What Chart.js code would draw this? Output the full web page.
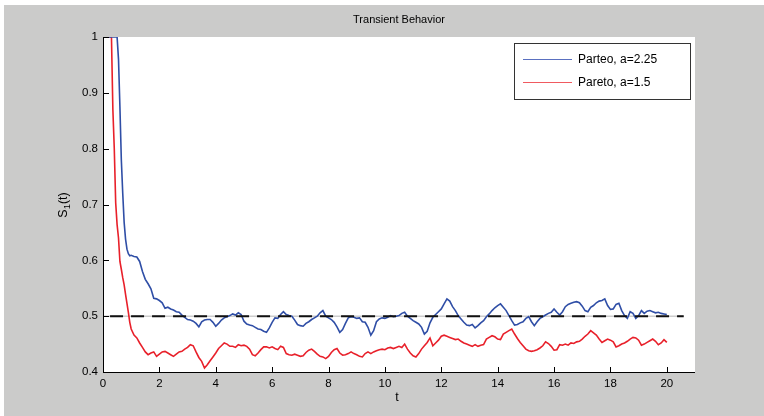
<!DOCTYPE html>
<html>
<head>
<meta charset="utf-8">
<script src="https://cdn.jsdelivr.net/npm/chart.js@4/dist/chart.umd.min.js"></script>
<style>
  html, body { margin: 0; padding: 0; background: #ffffff; }
  canvas { display: block; }
</style>
</head>
<body>
<canvas id="c" width="764" height="416"></canvas>
<script>
// Sample times (finer steps over the initial drop)
const tValues = [
  0, 0.1, 0.2, 0.3, 0.35, 0.4, 0.45, 0.5, 0.55, 0.6, 0.65, 0.7, 0.75, 0.8, 0.85, 0.9, 0.95, 1.0,
  1.1, 1.2, 1.3, 1.4, 1.5, 1.6, 1.7, 1.8, 1.9, 2.0,
  2.1, 2.2, 2.3, 2.4, 2.5, 2.6, 2.7, 2.8, 2.9, 3.0,
  3.1, 3.2, 3.3, 3.4, 3.5, 3.6, 3.7, 3.8, 3.9, 4.0,
  4.1, 4.2, 4.3, 4.4, 4.5, 4.6, 4.7, 4.8, 4.9, 5.0,
  5.1, 5.2, 5.3, 5.4, 5.5, 5.6, 5.7, 5.8, 5.9, 6.0,
  6.1, 6.2, 6.3, 6.4, 6.5, 6.6, 6.7, 6.8, 6.9, 7.0,
  7.1, 7.2, 7.3, 7.4, 7.5, 7.6, 7.7, 7.8, 7.9, 8.0,
  8.1, 8.2, 8.3, 8.4, 8.5, 8.6, 8.7, 8.8, 8.9, 9.0,
  9.1, 9.2, 9.3, 9.4, 9.5, 9.6, 9.7, 9.8, 9.9, 10.0,
  10.1, 10.2, 10.3, 10.4, 10.5, 10.6, 10.7, 10.8, 10.9, 11.0,
  11.1, 11.2, 11.3, 11.4, 11.5, 11.6, 11.7, 11.8, 11.9, 12.0,
  12.1, 12.2, 12.3, 12.4, 12.5, 12.6, 12.7, 12.8, 12.9, 13.0,
  13.1, 13.2, 13.3, 13.4, 13.5, 13.6, 13.7, 13.8, 13.9, 14.0,
  14.1, 14.2, 14.3, 14.4, 14.5, 14.6, 14.7, 14.8, 14.9, 15.0,
  15.1, 15.2, 15.3, 15.4, 15.5, 15.6, 15.7, 15.8, 15.9, 16.0,
  16.1, 16.2, 16.3, 16.4, 16.5, 16.6, 16.7, 16.8, 16.9, 17.0,
  17.1, 17.2, 17.3, 17.4, 17.5, 17.6, 17.7, 17.8, 17.9, 18.0,
  18.1, 18.2, 18.3, 18.4, 18.5, 18.6, 18.7, 18.8, 18.9, 19.0,
  19.1, 19.2, 19.3, 19.4, 19.5, 19.6, 19.7, 19.8, 19.9, 20.0
];

// S_1(t) for the Pareto a=2.25 run
const sParetoA225 = [
  1, 1, 1, 1, 1, 1, 1, 1, 0.96, 0.875, 0.78, 0.72, 0.668, 0.638, 0.62, 0.612, 0.608, 0.609,
  0.607, 0.606, 0.598, 0.580, 0.566, 0.558, 0.549, 0.532, 0.531, 0.528,
  0.524, 0.514, 0.516, 0.513, 0.511, 0.508, 0.507, 0.502, 0.498, 0.494,
  0.493, 0.491, 0.487, 0.481, 0.490, 0.493, 0.494, 0.494, 0.489, 0.482,
  0.487, 0.493, 0.497, 0.499, 0.501, 0.504, 0.502, 0.506, 0.503, 0.491,
  0.486, 0.484, 0.483, 0.480, 0.477, 0.476, 0.473, 0.471, 0.479, 0.489,
  0.497, 0.496, 0.503, 0.508, 0.503, 0.501, 0.500, 0.493, 0.485, 0.483,
  0.482, 0.487, 0.490, 0.494, 0.497, 0.500, 0.506, 0.510, 0.500, 0.497,
  0.494, 0.489, 0.481, 0.471, 0.476, 0.487, 0.497, 0.499, 0.498, 0.496,
  0.497, 0.490, 0.489, 0.480, 0.466, 0.474, 0.490, 0.495, 0.497, 0.496,
  0.498, 0.501, 0.499, 0.500, 0.501, 0.505, 0.507, 0.500, 0.496, 0.492,
  0.489, 0.486, 0.480, 0.468, 0.473, 0.488, 0.498, 0.503, 0.508, 0.513,
  0.522, 0.531, 0.527, 0.517, 0.510, 0.501, 0.495, 0.489, 0.484, 0.483,
  0.485, 0.479, 0.483, 0.488, 0.492, 0.499, 0.504, 0.510, 0.515, 0.519,
  0.522, 0.516, 0.510, 0.501, 0.492, 0.484, 0.485, 0.488, 0.490, 0.496,
  0.499, 0.490, 0.483, 0.490, 0.496, 0.499, 0.502, 0.505, 0.507, 0.513,
  0.507, 0.502, 0.508, 0.517, 0.521, 0.523, 0.525, 0.526, 0.524, 0.518,
  0.510, 0.508, 0.516, 0.519, 0.524, 0.527, 0.528, 0.531, 0.519, 0.512,
  0.513, 0.521, 0.523, 0.510, 0.501, 0.496, 0.508, 0.505, 0.496, 0.501,
  0.510, 0.505, 0.509, 0.510, 0.508, 0.506, 0.507, 0.505, 0.504, 0.503
];

// S_1(t) for the Pareto a=1.5 run
const sParetoA15 = [
  1, 1, 1, 1, 0.87, 0.80, 0.703, 0.664, 0.64, 0.598, 0.584, 0.569, 0.556, 0.539, 0.523, 0.507, 0.489, 0.477,
  0.466, 0.461, 0.452, 0.444, 0.436, 0.431, 0.434, 0.436, 0.428, 0.432,
  0.436, 0.437, 0.434, 0.431, 0.428, 0.432, 0.436, 0.437, 0.441, 0.444,
  0.449, 0.447, 0.436, 0.426, 0.419, 0.407, 0.413, 0.420, 0.427, 0.434,
  0.442, 0.447, 0.452, 0.450, 0.446, 0.446, 0.444, 0.449, 0.447, 0.448,
  0.446, 0.441, 0.431, 0.429, 0.434, 0.440, 0.445, 0.445, 0.443, 0.445,
  0.442, 0.440, 0.446, 0.444, 0.433, 0.431, 0.430, 0.432, 0.430, 0.428,
  0.429, 0.435, 0.439, 0.441, 0.437, 0.432, 0.428, 0.427, 0.424, 0.428,
  0.435, 0.440, 0.442, 0.434, 0.430, 0.431, 0.433, 0.436, 0.433, 0.431,
  0.428, 0.427, 0.433, 0.436, 0.433, 0.436, 0.438, 0.440, 0.441, 0.440,
  0.443, 0.444, 0.442, 0.444, 0.446, 0.444, 0.450, 0.441, 0.434, 0.429,
  0.427, 0.433, 0.441, 0.447, 0.453, 0.461, 0.447, 0.452, 0.457, 0.464,
  0.466, 0.464, 0.462, 0.460, 0.458, 0.459, 0.455, 0.452, 0.450, 0.448,
  0.446, 0.449, 0.446, 0.448, 0.449, 0.459, 0.462, 0.465, 0.463, 0.459,
  0.458, 0.468, 0.471, 0.474, 0.477, 0.468, 0.460, 0.453, 0.447, 0.441,
  0.438, 0.437, 0.438, 0.440, 0.443, 0.447, 0.454, 0.451, 0.446, 0.439,
  0.440, 0.449, 0.448, 0.450, 0.448, 0.452, 0.451, 0.454, 0.455, 0.459,
  0.464, 0.468, 0.474, 0.470, 0.466, 0.459, 0.453, 0.456, 0.459, 0.457,
  0.454, 0.445, 0.447, 0.450, 0.452, 0.455, 0.459, 0.462, 0.461, 0.457,
  0.448, 0.450, 0.453, 0.456, 0.459, 0.455, 0.449, 0.452, 0.458, 0.453
];

// Steady-state reference level and the spans of its two marker lines
const steadyLevel = 0.5;
const dashedSpan = [0.25, 20.6];
const guideSpan = [0, 20.6];

// Axis settings
const xTicks = [0, 2, 4, 6, 8, 10, 12, 14, 16, 18, 20];
const yTicks = [0.4, 0.5, 0.6, 0.7, 0.8, 0.9, 1];
const xRange = [0, 21];
const yRange = [0.4, 1];

const seriesLabels = ['Parteo, a=2.25', 'Pareto, a=1.5'];
const FONT = '"Liberation Sans", Arial, sans-serif';

const toPoints = (vals) => tValues.map((t, i) => ({ x: t, y: vals[i] }));

// Figure backdrop, axes box, ticks, labels and legend
const figurePlugin = {
  id: 'figure',
  beforeDraw(chart) {
    const { ctx, chartArea: ca, width, height } = chart;
    ctx.save();
    ctx.fillStyle = '#ffffff';
    ctx.fillRect(0, 0, width, height);
    ctx.fillStyle = '#cbcbca';
    ctx.fillRect(4, 5, width - 4, height - 5);
    ctx.fillStyle = '#ffffff';
    ctx.fillRect(ca.left, ca.top, ca.right - ca.left, ca.bottom - ca.top);
    ctx.restore();
  },
  afterDraw(chart) {
    const { ctx, chartArea: ca, scales } = chart;
    const xs = scales.x, ys = scales.y;
    ctx.save();
    // axis lines
    ctx.strokeStyle = '#000000';
    ctx.lineWidth = 1;
    ctx.beginPath();
    ctx.moveTo(ca.left + 0.5, ca.top);
    ctx.lineTo(ca.left + 0.5, ca.bottom + 0.5);
    ctx.lineTo(ca.right, ca.bottom + 0.5);
    ctx.stroke();
    // inward ticks
    ctx.beginPath();
    xTicks.forEach(v => {
      const px = Math.round(xs.getPixelForValue(v)) + 0.5;
      ctx.moveTo(px, ca.bottom);
      ctx.lineTo(px, ca.bottom - 5);
    });
    yTicks.forEach(v => {
      const py = Math.round(ys.getPixelForValue(v)) + 0.5;
      ctx.moveTo(ca.left, py);
      ctx.lineTo(ca.left + 6, py);
    });
    ctx.stroke();

    const cx = (ca.left + ca.right) / 2;
    ctx.fillStyle = '#000000';
    // title
    ctx.font = '11px ' + FONT;
    ctx.textAlign = 'center';
    ctx.textBaseline = 'middle';
    ctx.fillText('Transient Behavior', cx, 20);
    // x label
    ctx.font = '12.5px ' + FONT;
    ctx.fillText('t', cx - 2, 398);
    // y label S_1(t), rotated
    ctx.save();
    ctx.translate(63, 205);
    ctx.rotate(-Math.PI / 2);
    ctx.textAlign = 'left';
    ctx.textBaseline = 'alphabetic';
    const mainFont = '12.5px ' + FONT, subFont = '9.5px ' + FONT;
    ctx.font = mainFont;
    const wS = ctx.measureText('S').width;
    const wT = ctx.measureText('(t)').width;
    ctx.font = subFont;
    const w1 = ctx.measureText('1').width;
    let x0 = -(wS + w1 + wT) / 2;
    ctx.font = mainFont;
    ctx.fillText('S', x0, 4);
    ctx.font = subFont;
    ctx.fillText('1', x0 + wS, 7);
    ctx.font = mainFont;
    ctx.fillText('(t)', x0 + wS + w1, 4);
    ctx.restore();

    // legend
    const lx = 514, ly = 43, lw = 176, lh = 56;
    ctx.fillStyle = '#ffffff';
    ctx.fillRect(lx, ly, lw, lh);
    ctx.strokeStyle = '#333333';
    ctx.lineWidth = 1;
    ctx.strokeRect(lx + 0.5, ly + 0.5, lw, lh);
    const rows = [59.5, 82.5];
    const entries = chart.data.datasets.filter(d => seriesLabels.includes(d.label));
    entries.forEach((d, i) => {
      ctx.strokeStyle = d.legendColor;
      ctx.lineWidth = 1;
      ctx.beginPath();
      ctx.moveTo(523, rows[i]);
      ctx.lineTo(572, rows[i]);
      ctx.stroke();
      ctx.fillStyle = '#000000';
      ctx.font = '12px ' + FONT;
      ctx.textAlign = 'left';
      ctx.textBaseline = 'middle';
      ctx.fillText(d.label, 578, rows[i] + 0.5);
    });
    ctx.restore();
  }
};

new Chart(document.getElementById('c'), {
  type: 'line',
  data: {
    datasets: [
      {
        label: 'steady',
        data: [{ x: dashedSpan[0], y: steadyLevel }, { x: dashedSpan[1], y: steadyLevel }],
        borderColor: '#111111',
        borderWidth: 2,
        borderDash: [13, 8],
        pointRadius: 0,
        order: 0
      },
      {
        label: seriesLabels[0],
        data: toPoints(sParetoA225),
        borderColor: '#2f4ea6',
        legendColor: '#5a70c0',
        borderWidth: 1.6,
        pointRadius: 0,
        tension: 0,
        order: 1
      },
      {
        label: seriesLabels[1],
        data: toPoints(sParetoA15),
        borderColor: '#e8202a',
        legendColor: '#f05a60',
        borderWidth: 1.6,
        pointRadius: 0,
        tension: 0,
        order: 2
      },
      {
        label: 'guide',
        data: [{ x: guideSpan[0], y: steadyLevel }, { x: guideSpan[1], y: steadyLevel }],
        borderColor: '#b4b4b4',
        borderWidth: 1,
        pointRadius: 0,
        order: 3
      }
    ]
  },
  options: {
    responsive: false,
    animation: false,
    devicePixelRatio: 1,
    layout: { padding: { left: 0, top: 37, right: 69, bottom: 0 } },
    plugins: { legend: { display: false }, title: { display: false }, tooltip: { enabled: false } },
    scales: {
      x: {
        type: 'linear',
        min: xRange[0],
        max: xRange[1],
        grid: { display: false, drawTicks: false },
        border: { display: false },
        afterBuildTicks: s => { s.ticks = xTicks.map(v => ({ value: v })); },
        afterFit: s => { s.height = 44; },
        ticks: {
          autoSkip: false,
          maxRotation: 0,
          padding: 5,
          color: '#000000',
          font: { family: FONT, size: 11.5 },
          callback: v => String(v)
        }
      },
      y: {
        type: 'linear',
        min: yRange[0],
        max: yRange[1],
        grid: { display: false, drawTicks: false },
        border: { display: false },
        afterBuildTicks: s => { s.ticks = yTicks.map(v => ({ value: v })); },
        afterFit: s => { s.width = 103; },
        ticks: {
          autoSkip: false,
          padding: 5,
          color: '#000000',
          font: { family: FONT, size: 11.5 },
          callback: v => String(Number(v.toFixed(1)))
        }
      }
    }
  },
  plugins: [figurePlugin]
});
</script>
</body>
</html>
